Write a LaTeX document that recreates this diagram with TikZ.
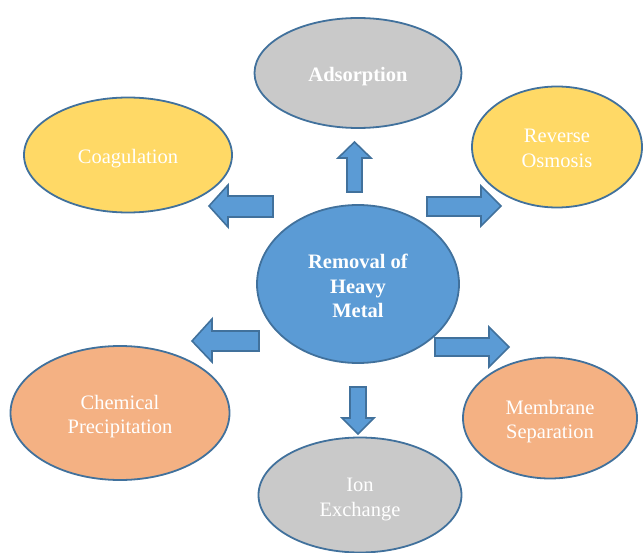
\documentclass[tikz,border=0pt]{standalone}
\usepackage{fontspec}
\setmainfont{Liberation Serif}
\usetikzlibrary{shapes.geometric}
\definecolor{hubblue}{HTML}{5B9BD5}
\definecolor{edgeblue}{HTML}{41719C}
\definecolor{softgray}{HTML}{C9C9C9}
\definecolor{softyellow}{HTML}{FFD966}
\definecolor{softorange}{HTML}{F4B183}
\tikzset{
  x=1pt, y=-1pt,
  blob/.style={ellipse, draw=edgeblue, line width=1.8pt, inner sep=0pt},
  caption/.style={text=white, align=center, yshift=-3.5pt,
    font=\fontsize{20.5}{24.5}\selectfont},
  boldcaption/.style={caption, font=\fontsize{20.5}{24.5}\selectfont\bfseries},
  blockarrow/.style={fill=hubblue, draw=edgeblue, line width=1.6pt, line join=miter}
}
\begin{document}
\begin{tikzpicture}
\useasboundingbox (0,0) rectangle (644,553);

% central topic
\node[blob, fill=hubblue, minimum width=202pt, minimum height=158pt,
      label={[boldcaption, yshift=1.5pt]center:Removal of\\Heavy\\Metal}] (hub) at (358,284) {};

% treatment methods
\node[blob, fill=softgray, minimum width=207pt, minimum height=110pt,
      label={[boldcaption]center:Adsorption}] (ads) at (358,73) {};
\node[blob, fill=softyellow, minimum width=208pt, minimum height=115pt,
      label={[caption]center:Coagulation}] (coag) at (128,155) {};
\node[blob, fill=softyellow, minimum width=170pt, minimum height=121pt,
      label={[caption, yshift=2pt]center:Reverse\\Osmosis}] (ro) at (557,147) {};
\node[blob, fill=softorange, minimum width=219pt, minimum height=134pt,
      label={[caption]center:Chemical\\Precipitation}] (chem) at (120,413) {};
\node[blob, fill=softorange, minimum width=174pt, minimum height=121pt,
      label={[caption]center:Membrane\\Separation}] (memb) at (550,418) {};
\node[blob, fill=softgray, minimum width=203pt, minimum height=115pt,
      label={[caption, yshift=-1pt]center:Ion\\Exchange}] (ion) at (360,495) {};

% block arrows pointing from the hub to each method
% up, to Adsorption
\draw[blockarrow] (347,192) -- (347,158) -- (338,158) -- (354.5,142) -- (371,158) -- (362,158) -- (362,192) -- cycle;
% left, to Coagulation
\draw[blockarrow] (273,196) -- (228,196) -- (228,185) -- (209,206) -- (228,227) -- (228,217) -- (273,217) -- cycle;
% right, to Reverse Osmosis
\draw[blockarrow] (427,197) -- (481,197) -- (481,186) -- (501,206) -- (481,226) -- (481,216) -- (427,216) -- cycle;
% left, to Chemical Precipitation
\draw[blockarrow] (259,331) -- (212,331) -- (212,319) -- (192,341) -- (212,362) -- (212,351) -- (259,351) -- cycle;
% right, to Membrane Separation
\draw[blockarrow] (435,338) -- (489,338) -- (489,327) -- (509,347) -- (489,367) -- (489,356) -- (435,356) -- cycle;
% down, to Ion Exchange
\draw[blockarrow] (350,387) -- (366,387) -- (366,418) -- (374,418) -- (358,434) -- (342,418) -- (350,418) -- cycle;
\end{tikzpicture}
\end{document}
